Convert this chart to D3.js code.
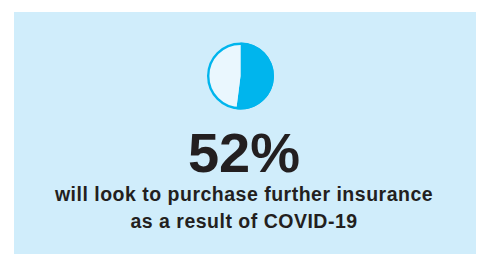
<!DOCTYPE html>
<html>
<head>
<meta charset="utf-8">
<script src="https://cdn.jsdelivr.net/npm/d3@7"></script>
<style>
	html, body { margin: 0; padding: 0; background: #fff; }
	svg { display: block; }
</style>
</head>
<body>
<svg id="main"></svg>
<script>
var shares = [52, 48];
var shareColors = ['#00b5ed', '#eaf7fe'];
var headline = '52%';
var captionLines = ['will look to purchase further insurance', 'as a result of COVID-19'];

window.onload = function init() {
	'use strict';

	var width = 483,
		height = 254,
		svg = d3.select('svg#main').attr('width', width).attr('height', height);

	svg.append('rect')
		.attr('x', 14).attr('y', 12)
		.attr('width', 462).attr('height', height - 12)
		.attr('fill', '#d0edfb');

	var cx = 240.5, cy = 76, r = 33.5;
	var pie = d3.pie().sort(null);
	var arc = d3.arc().innerRadius(0).outerRadius(r);
	var g = svg.append('g').attr('transform', 'translate(' + cx + ',' + cy + ')');

	g.selectAll('path').data(pie(shares)).enter()
		.append('path')
		.attr('d', arc)
		.attr('fill', function(d, i) { return shareColors[i]; });

	// outline round the whole disc
	g.append('circle')
		.attr('r', r - 1.2)
		.attr('fill', 'none')
		.attr('stroke', shareColors[0])
		.attr('stroke-width', 2.4);

	svg.append('text')
		.attr('x', 244).attr('y', 172)
		.attr('text-anchor', 'middle')
		.style('font-family', '"Liberation Sans", Arial, sans-serif')
		.style('font-weight', 'bold')
		.style('font-size', '56px')
		.attr('fill', '#231f20')
		.text(headline);

	svg.selectAll('text.caption').data(captionLines).enter()
		.append('text')
		.attr('class', 'caption')
		.attr('x', 244)
		.attr('y', function(d, i) { return 201 + i * 26.5; })
		.attr('text-anchor', 'middle')
		.style('font-family', '"Liberation Sans", Arial, sans-serif')
		.style('font-weight', 'bold')
		.style('font-size', '19.5px')
		.style('letter-spacing', '0.5px')
		.attr('fill', '#231f20')
		.text(function(d) { return d; });
};
</script>
</body>
</html>
